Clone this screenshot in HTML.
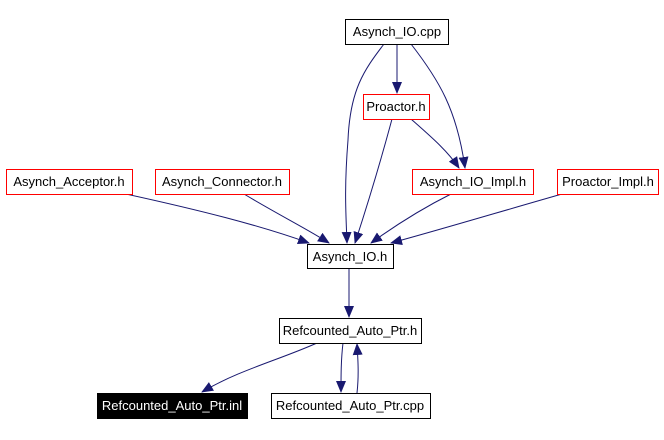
<!DOCTYPE html>
<html><head><meta charset="utf-8"><style>
body{margin:0;background:#fff;width:664px;height:435px;overflow:hidden}
text{font-family:"Liberation Sans",sans-serif;font-size:13px;text-anchor:middle}
</style></head><body>
<svg width="664" height="435" xmlns="http://www.w3.org/2000/svg">
<defs><marker id="a" markerWidth="12" markerHeight="10" refX="11" refY="5" orient="auto" markerUnits="userSpaceOnUse"><path d="M0,0L12,5L0,10z" fill="#191970"/></marker></defs>
<g fill="none" stroke="#191970" stroke-width="1" marker-end="url(#a)">
<path d="M397,44L397,93"/>
<path d="M384,44C364,70 350,90 348,140C344,190 346,215 347,243"/>
<path d="M411,44C439,80 457,110 465,168"/>
<path d="M392,119C381,160 369,200 355,243"/>
<path d="M411,119C429,135 447,150 459,168"/>
<path d="M126,194C199,210 259,225 309,243"/>
<path d="M244,194C279,215 309,230 329,243"/>
<path d="M451,194C419,210 389,230 371,243"/>
<path d="M562,194C499,212 439,230 391,243"/>
<path d="M349,268L349,317"/>
<path d="M317,343C279,360 239,370 202,392"/>
<path d="M343,343C341,360 341,375 341,392"/>
<path d="M357,393C359,375 358,360 357,344"/>
</g>
<g stroke-width="1">
<rect x="345.5" y="19.5" width="103" height="25" fill="#fff" stroke="#000"/>
<rect x="363.5" y="94.5" width="66" height="25" fill="#fff" stroke="#f00"/>
<rect x="6.5" y="169.5" width="126" height="25" fill="#fff" stroke="#f00"/>
<rect x="155.5" y="169.5" width="134" height="25" fill="#fff" stroke="#f00"/>
<rect x="412.5" y="169.5" width="121" height="25" fill="#fff" stroke="#f00"/>
<rect x="557.5" y="169.5" width="101" height="25" fill="#fff" stroke="#f00"/>
<rect x="307.5" y="244.5" width="86" height="24" fill="#fff" stroke="#000"/>
<rect x="279.5" y="318.5" width="142" height="25" fill="#fff" stroke="#000"/>
<rect x="97.5" y="393.5" width="150" height="25" fill="#000" stroke="#000"/>
<rect x="271.5" y="393.5" width="159" height="25" fill="#fff" stroke="#000"/>
</g>
<g fill="#000">
<text x="397" y="36">Asynch_IO.cpp</text>
<text x="396" y="111">Proactor.h</text>
<text x="69" y="186">Asynch_Acceptor.h</text>
<text x="222" y="186">Asynch_Connector.h</text>
<text x="473" y="186">Asynch_IO_Impl.h</text>
<text x="608" y="186">Proactor_Impl.h</text>
<text x="350" y="261">Asynch_IO.h</text>
<text x="350" y="335">Refcounted_Auto_Ptr.h</text>
<text x="172" y="410" fill="#fff">Refcounted_Auto_Ptr.inl</text>
<text x="350" y="410">Refcounted_Auto_Ptr.cpp</text>
</g>
</svg>
</body></html>
